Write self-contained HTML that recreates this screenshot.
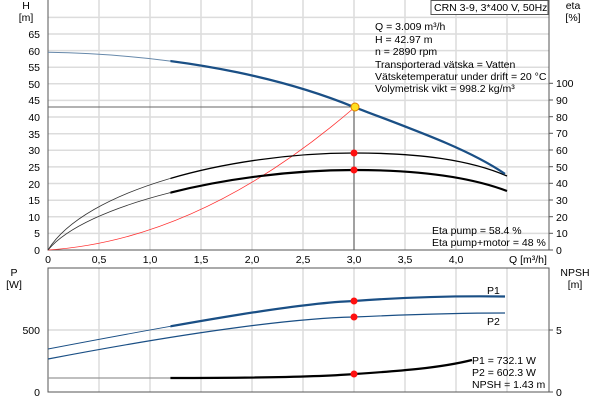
<!DOCTYPE html>
<html><head><meta charset="utf-8"><style>
body{margin:0;background:#fff}
svg{display:block;font-family:"Liberation Sans",sans-serif;font-size:10.5px}
</style></head><body>
<svg width="600" height="400" viewBox="0 0 600 400">
<defs>
<clipPath id="L"><rect x="0" y="0" width="170.4" height="400"/></clipPath>
<clipPath id="R"><rect x="170.4" y="0" width="430" height="400"/></clipPath>
</defs>
<rect width="600" height="400" fill="#fff"/>
<g stroke="#dcdcdc" stroke-width="1.5">
<line x1="99" y1="0" x2="99" y2="250"/><line x1="150" y1="0" x2="150" y2="250"/><line x1="201" y1="0" x2="201" y2="250"/><line x1="252" y1="0" x2="252" y2="250"/><line x1="303" y1="0" x2="303" y2="250"/><line x1="354" y1="0" x2="354" y2="250"/><line x1="405" y1="0" x2="405" y2="250"/><line x1="456" y1="0" x2="456" y2="250"/><line x1="507" y1="0" x2="507" y2="250"/>
<line x1="48" y1="17.4" x2="549" y2="17.4"/><line x1="48" y1="34" x2="549" y2="34"/><line x1="48" y1="50.6" x2="549" y2="50.6"/><line x1="48" y1="67.2" x2="549" y2="67.2"/><line x1="48" y1="83.8" x2="549" y2="83.8"/><line x1="48" y1="100.4" x2="549" y2="100.4"/><line x1="48" y1="117" x2="549" y2="117"/><line x1="48" y1="133.7" x2="549" y2="133.7"/><line x1="48" y1="150.3" x2="549" y2="150.3"/><line x1="48" y1="166.9" x2="549" y2="166.9"/><line x1="48" y1="183.5" x2="549" y2="183.5"/><line x1="48" y1="200.2" x2="549" y2="200.2"/><line x1="48" y1="216.8" x2="549" y2="216.8"/><line x1="48" y1="233.4" x2="549" y2="233.4"/>
</g>
<g stroke="#dcdcdc" stroke-width="1.5">
<line x1="99" y1="268" x2="99" y2="392"/><line x1="150" y1="268" x2="150" y2="392"/><line x1="201" y1="268" x2="201" y2="392"/><line x1="252" y1="268" x2="252" y2="392"/><line x1="303" y1="268" x2="303" y2="392"/><line x1="354" y1="268" x2="354" y2="392"/><line x1="405" y1="268" x2="405" y2="392"/><line x1="456" y1="268" x2="456" y2="392"/><line x1="507" y1="268" x2="507" y2="392"/>
<line x1="48" y1="330" x2="549" y2="330"/>
</g>
<g stroke="#555" stroke-width="1" fill="none">
<polyline points="48,0 48,250 549,250 549,0"/>
<rect x="48" y="268" width="501" height="124"/>
</g>
<g stroke="#555">
<line x1="549" y1="250" x2="553" y2="250"/><line x1="549" y1="233.3" x2="553" y2="233.3"/><line x1="549" y1="216.7" x2="553" y2="216.7"/><line x1="549" y1="200" x2="553" y2="200"/><line x1="549" y1="183.3" x2="553" y2="183.3"/><line x1="549" y1="166.7" x2="553" y2="166.7"/><line x1="549" y1="150" x2="553" y2="150"/><line x1="549" y1="133.3" x2="553" y2="133.3"/><line x1="549" y1="116.7" x2="553" y2="116.7"/><line x1="549" y1="100" x2="553" y2="100"/><line x1="549" y1="83.3" x2="553" y2="83.3"/>
<line x1="549" y1="330" x2="553" y2="330"/><line x1="549" y1="392" x2="553" y2="392"/>
</g>
<line x1="48" y1="107" x2="354" y2="107" stroke="#666"/>
<line x1="354" y1="107" x2="354" y2="250" stroke="#555"/>
<g text-anchor="end" fill="#000">
<text x="40" y="38">65</text><text x="40" y="55">60</text><text x="40" y="71">55</text><text x="40" y="88">50</text><text x="40" y="104">45</text><text x="40" y="121">40</text><text x="40" y="138">35</text><text x="40" y="154">30</text><text x="40" y="171">25</text><text x="40" y="188">20</text><text x="40" y="204">15</text><text x="40" y="221">10</text><text x="40" y="237">5</text><text x="40" y="254">0</text>
</g>
<text x="26" y="9" text-anchor="middle">H</text><text x="26" y="21" text-anchor="middle">[m]</text>
<text x="573" y="9" text-anchor="middle">eta</text><text x="573" y="21" text-anchor="middle">[%]</text>
<g fill="#000">
<text x="556" y="87">100</text><text x="556" y="104">90</text><text x="556" y="121">80</text><text x="556" y="137">70</text><text x="556" y="154">60</text><text x="556" y="171">50</text><text x="556" y="187">40</text><text x="556" y="204">30</text><text x="556" y="221">20</text><text x="556" y="237">10</text><text x="556" y="254">0</text>
</g>
<g text-anchor="middle">
<text x="48" y="263">0</text><text x="99" y="263">0,5</text><text x="150" y="263">1,0</text><text x="201" y="263">1,5</text><text x="252" y="263">2,0</text><text x="303" y="263">2,5</text><text x="354" y="263">3,0</text><text x="405" y="263">3,5</text><text x="456" y="263">4,0</text>
</g>
<text x="509" y="263">Q [m³/h]</text>
<rect x="431" y="0.5" width="117" height="14" fill="#fff" stroke="#555"/>
<text x="434" y="11">CRN 3-9, 3*400 V, 50Hz</text>
<g fill="#000">
<text x="375" y="30">Q = 3.009 m³/h</text>
<text x="375" y="43">H = 42.97 m</text>
<text x="375" y="55">n = 2890 rpm</text>
<text x="375" y="68">Transporterad vätska = Vatten</text>
<text x="375" y="80">Vätsketemperatur under drift = 20 °C</text>
<text x="375" y="92">Volymetrisk vikt = 998.2 kg/m³</text>
<text x="432" y="234">Eta pump = 58.4 %</text>
<text x="432" y="246">Eta pump+motor = 48 %</text>
</g>
<path fill="none" stroke="#ff3030" stroke-width="0.8" d="M48,250 Q201,240 355,107"/>
<path id="e1" fill="none" stroke="#333" stroke-width="0.8" clip-path="url(#L)" d="M48,250 C85,190 230,153 354,153 C420,153 470,160 507,176"/>
<path fill="none" stroke="#000" stroke-width="1.3" clip-path="url(#R)" d="M48,250 C85,190 230,153 354,153 C420,153 470,160 507,176"/>
<path fill="none" stroke="#333" stroke-width="0.8" clip-path="url(#L)" d="M48,250 C85,205 230,170 354,170 C420,170 470,177 507,191"/>
<path fill="none" stroke="#000" stroke-width="2.2" clip-path="url(#R)" d="M48,250 C85,205 230,170 354,170 C420,170 470,177 507,191"/>
<path fill="none" stroke="#6688aa" stroke-width="1" clip-path="url(#L)" d="M48,52.3 C200,55 300,85 354,107.1 C420,132 470,150 505,173.9"/>
<path fill="none" stroke="#1a4f85" stroke-width="2.3" clip-path="url(#R)" d="M48,52.3 C200,55 300,85 354,107.1 C420,132 470,150 505,173.9"/>
<circle cx="354" cy="153" r="3.5" fill="#ff1010"/>
<circle cx="354" cy="170" r="3.5" fill="#ff1010"/>
<circle cx="355" cy="107" r="4" fill="#ffe020" stroke="#e08000"/>
<text x="14" y="276" text-anchor="middle">P</text><text x="14" y="288" text-anchor="middle">[W]</text>
<text x="575" y="276" text-anchor="middle">NPSH</text><text x="575" y="288" text-anchor="middle">[m]</text>
<text x="40" y="334" text-anchor="end">500</text><text x="40" y="396" text-anchor="end">0</text>
<text x="556" y="334">5</text><text x="556" y="396">0</text>
<path fill="none" stroke="#1a4f85" stroke-width="0.9" clip-path="url(#L)" d="M48,349 C200,320 300,303 354,301 C420,296 470,296 505,296.5"/>
<path fill="none" stroke="#1a4f85" stroke-width="2.2" clip-path="url(#R)" d="M48,349 C200,320 300,303 354,301 C420,296 470,296 505,296.5"/>
<path fill="none" stroke="#1a4f85" stroke-width="1.2" d="M48,359 C200,330 300,318 354,317 C420,314 470,313 505,313"/>
<polyline fill="none" stroke="#999" stroke-width="1.2" points="48,378 170.4,378"/>
<path fill="none" stroke="#000" stroke-width="2.2" d="M170.4,378 C280,378 330,376 354,374 C400,371 440,368 472,360"/>
<circle cx="354" cy="301" r="3.5" fill="#ff1010"/>
<circle cx="354" cy="317" r="3.5" fill="#ff1010"/>
<circle cx="354" cy="374" r="3.5" fill="#ff1010"/>
<text x="487" y="294">P1</text><text x="487" y="325">P2</text>
<text x="472" y="364">P1 = 732.1 W</text>
<text x="472" y="376">P2 = 602.3 W</text>
<text x="472" y="388">NPSH = 1.43 m</text>
</svg>
</body></html>
